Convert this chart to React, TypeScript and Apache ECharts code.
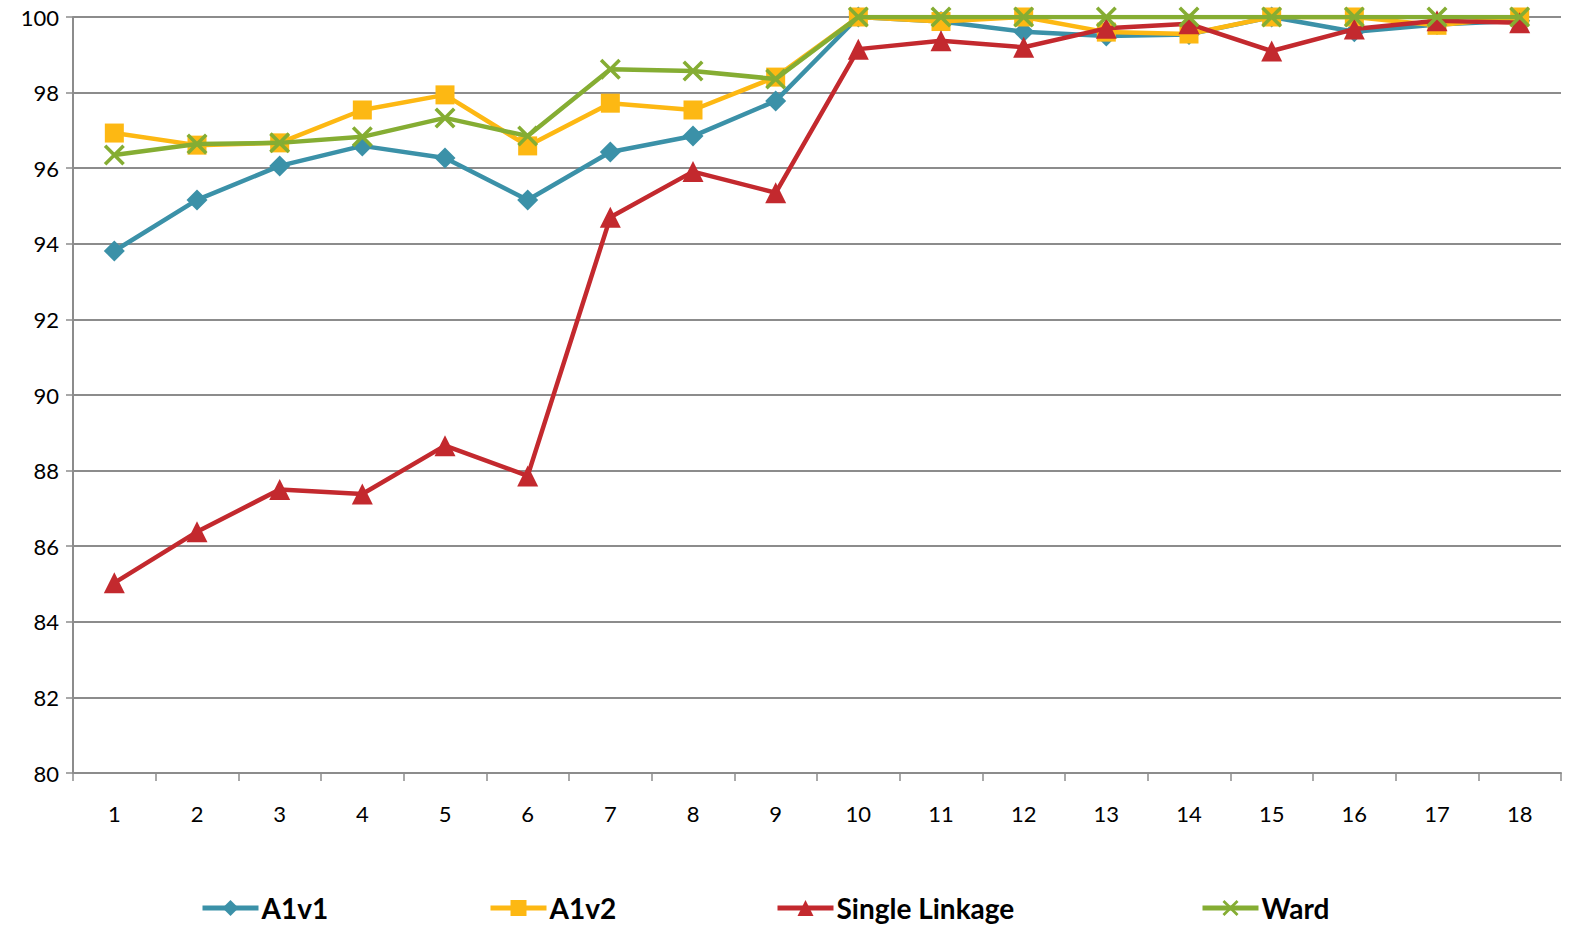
import React, { useEffect, useRef } from "react";
import * as echarts from "echarts";

// Category labels on the x axis
const categories = ["1", "2", "3", "4", "5", "6", "7", "8", "9", "10", "11", "12", "13", "14", "15", "16", "17", "18"];

// Series values (percent)
const a1v1 = [93.81, 95.16, 96.06, 96.59, 96.27, 95.16, 96.43, 96.85, 97.78, 100, 99.88, 99.61, 99.5, 99.54, 100, 99.61, 99.8, 99.9];
const a1v2 = [96.93, 96.61, 96.67, 97.54, 97.94, 96.59, 97.72, 97.54, 98.41, 100, 99.88, 100, 99.6, 99.55, 100, 100, 99.78, 100];
const singleLinkage = [85.03, 86.38, 87.5, 87.38, 88.66, 87.86, 94.7, 95.91, 95.35, 99.15, 99.37, 99.2, 99.7, 99.82, 99.1, 99.68, 99.9, 99.85];
const ward = [96.35, 96.64, 96.67, 96.83, 97.33, 96.85, 98.62, 98.57, 98.36, 100, 100, 100, 100, 100, 100, 100, 100, 100];

const seriesNames = ["A1v1", "A1v2", "Single Linkage", "Ward"];
const seriesColors = ["#3b91a8", "#fdb813", "#c3292e", "#85ad33"];

// Filled "x" cross used as the Ward marker
const crossSymbol =
  "path://M0,1.2 L1.2,0 L5,3.8 L8.8,0 L10,1.2 L6.2,5 L10,8.8 L8.8,10 L5,6.2 L1.2,10 L0,8.8 L3.8,5 Z";

const FONT = "Lato, 'Open Sans', sans-serif";

export default function App() {
  const ref = useRef<HTMLDivElement>(null);

  useEffect(() => {
    if (!ref.current) return;
    const chart = echarts.init(ref.current, null, { renderer: "svg" });

    const data = [a1v1, a1v2, singleLinkage, ward];
    const symbols = ["diamond", "rect", "triangle", crossSymbol];
    const symbolSizes = [21, 19, 21, 21];
    const legendLefts = [200, 488, 775, 1200];

    const series = data.map((values, i) => ({
      name: seriesNames[i],
      type: "line",
      data: values,
      symbol: symbols[i],
      symbolSize: symbolSizes[i],
      showAllSymbol: true,
      lineStyle: { width: 4.5, color: seriesColors[i] },
      itemStyle: { color: seriesColors[i] },
      emphasis: { disabled: true },
      z: 2 + i,
    }));

    const legends = seriesNames.map((name, i) => ({
      data: [name],
      left: legendLefts[i],
      top: 893,
      padding: 0,
      orient: "horizontal",
      itemWidth: 56,
      itemHeight: 20,
      itemGap: 4,
      selectedMode: false,
      lineStyle: { width: 5 },
      textStyle: {
        fontFamily: FONT,
        fontWeight: "bold",
        fontSize: 28,
        lineHeight: 30,
        color: "#000",
        padding: [0, 0, 0, -2],
      },
    }));

    chart.setOption({
      animation: false,
      backgroundColor: "#ffffff",
      grid: { left: 73, right: 8, top: 17, bottom: 155, containLabel: false },
      legend: legends,
      xAxis: {
        type: "category",
        data: categories,
        boundaryGap: true,
        axisLine: { show: true, lineStyle: { color: "#8c8c8c", width: 2 } },
        axisTick: { show: true, length: 8, lineStyle: { color: "#8c8c8c", width: 1.5 } },
        axisLabel: { margin: 29, fontFamily: FONT, fontSize: 22, color: "#000" },
        splitLine: { show: false },
      },
      yAxis: {
        type: "value",
        min: 80,
        max: 100,
        interval: 2,
        axisLine: { show: true, lineStyle: { color: "#8c8c8c", width: 2 } },
        axisTick: { show: true, length: 7, lineStyle: { color: "#8c8c8c", width: 1.5 } },
        axisLabel: { margin: 14, fontFamily: FONT, fontSize: 22, color: "#000" },
        splitLine: { show: true, lineStyle: { color: "#8c8c8c", width: 2 } },
      },
      series,
    });

    return () => chart.dispose();
  }, []);

  return (
    <div
      ref={ref}
      style={{ position: "fixed", left: 0, top: 0, width: 1569, height: 928, background: "#fff" }}
    />
  );
}
